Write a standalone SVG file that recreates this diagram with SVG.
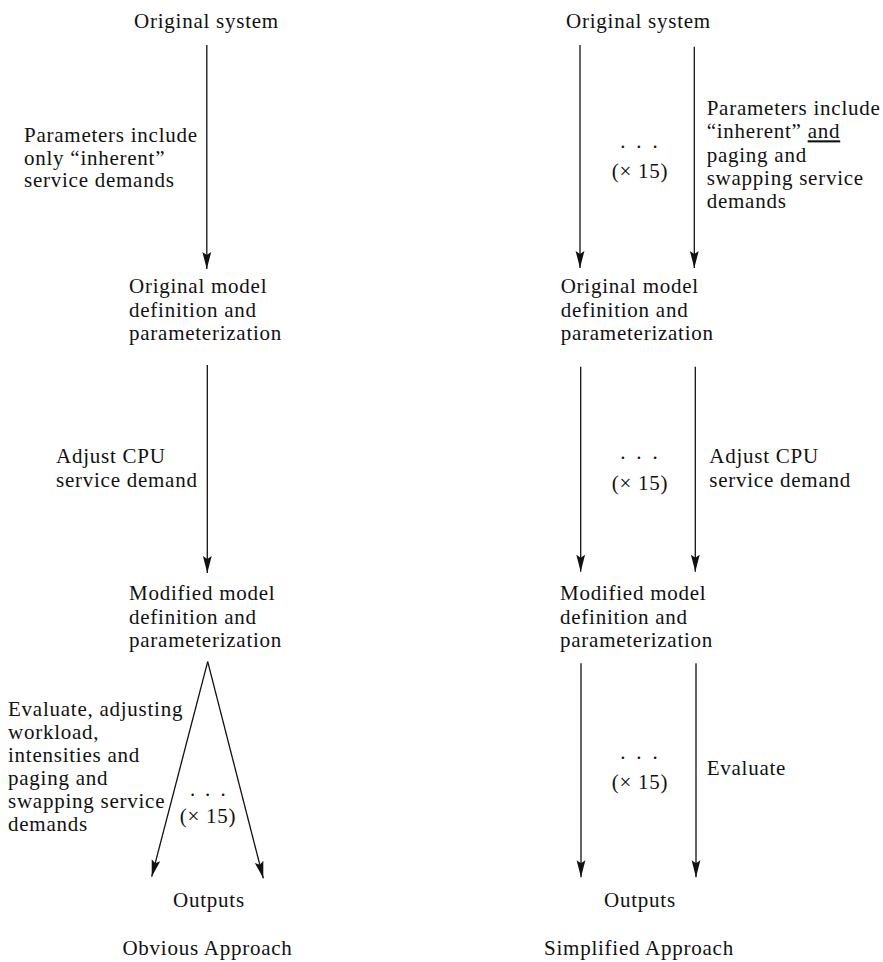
<svg xmlns="http://www.w3.org/2000/svg" width="883" height="962" viewBox="0 0 883 962">
<defs>
<marker id="ah" markerUnits="userSpaceOnUse" markerWidth="18" markerHeight="10" viewBox="0 0 18 10" refX="17" refY="5" orient="auto">
<path d="M0,0.6 L17,5 L0,9.4 L3,5 Z" fill="#111"/>
</marker>
<style>
text{font-family:"Liberation Serif","Times New Roman",serif;font-size:21px;fill:#111;letter-spacing:0.75px}
.c{text-anchor:middle}
.e{stroke:#111;stroke-width:1.3;fill:none;marker-end:url(#ah)}
.ul{text-decoration:underline}
</style>
</defs>
<rect width="883" height="962" fill="#fff"/>

<g id="connectors">
<line class="e" x1="206.8" y1="45" x2="206.8" y2="269"/>
<line class="e" x1="207.3" y1="365" x2="207.3" y2="573"/>
<line class="e" x1="207.7" y1="661.7" x2="151.7" y2="876.7"/>
<line class="e" x1="207.7" y1="661.7" x2="263.3" y2="878.3"/>
<line class="e" x1="580" y1="45" x2="580" y2="268"/>
<line class="e" x1="694.3" y1="46.7" x2="694.3" y2="268"/>
<line class="e" x1="580.7" y1="366.7" x2="580.7" y2="571.7"/>
<line class="e" x1="695.3" y1="366.7" x2="695.3" y2="571.7"/>
<line class="e" x1="581" y1="663.3" x2="581" y2="877.3"/>
<line class="e" x1="696" y1="663.3" x2="696" y2="877.3"/>
</g>

<g id="edge-labels">
<text x="24" y="141.5">Parameters include</text>
<text x="24" y="164.5">only “inherent”</text>
<text x="24" y="187">service demands</text>
<text x="56" y="463.3">Adjust CPU</text>
<text x="56" y="487">service demand</text>
<text x="8" y="716">Evaluate, adjusting</text>
<text x="8" y="738.5">workload,</text>
<text x="8" y="761.7">intensities and</text>
<text x="8" y="785">paging and</text>
<text x="8" y="808.3">swapping service</text>
<text x="8" y="830.7">demands</text>
<text x="190" y="795.5" letter-spacing="0">.<tspan x="205">.</tspan><tspan x="220.5">.</tspan></text>
<text class="c" x="208" y="823.3">(× 15)</text>

<text x="706.7" y="115">Parameters include</text>
<text x="706.7" y="138.3">“inherent” <tspan class="ul">and</tspan></text>
<text x="706.7" y="161.7">paging and</text>
<text x="706.7" y="185">swapping service</text>
<text x="706.7" y="208.3">demands</text>
<text x="620.2" y="148" letter-spacing="0">.<tspan x="636.2">.</tspan><tspan x="652.4">.</tspan></text>
<text class="c" x="640" y="178.3">(× 15)</text>

<text x="709.3" y="463.3">Adjust CPU</text>
<text x="709.3" y="486.7">service demand</text>
<text x="620.2" y="459" letter-spacing="0">.<tspan x="636.2">.</tspan><tspan x="652.4">.</tspan></text>
<text class="c" x="640" y="490">(× 15)</text>

<text x="706.7" y="775">Evaluate</text>
<text x="620.2" y="759" letter-spacing="0">.<tspan x="636.2">.</tspan><tspan x="652.4">.</tspan></text>
<text class="c" x="640" y="789.3">(× 15)</text>
</g>

<g id="left-original-system"><text class="c" x="206.5" y="27.5">Original system</text></g>
<g id="left-original-model">
<text x="129" y="292.5">Original model</text>
<text x="129" y="316.5">definition and</text>
<text x="129" y="340">parameterization</text>
</g>
<g id="left-modified-model">
<text x="129" y="600">Modified model</text>
<text x="129" y="623.5">definition and</text>
<text x="129" y="647">parameterization</text>
</g>
<g id="left-outputs"><text class="c" x="209" y="906.7">Outputs</text></g>
<g id="left-title"><text class="c" x="207.5" y="955">Obvious Approach</text></g>

<g id="right-original-system"><text class="c" x="638.5" y="28">Original system</text></g>
<g id="right-original-model">
<text x="560.7" y="292.5">Original model</text>
<text x="560.7" y="316.5">definition and</text>
<text x="560.7" y="340">parameterization</text>
</g>
<g id="right-modified-model">
<text x="560" y="600">Modified model</text>
<text x="560" y="623.5">definition and</text>
<text x="560" y="647">parameterization</text>
</g>
<g id="right-outputs"><text class="c" x="640" y="906.7">Outputs</text></g>
<g id="right-title"><text class="c" x="639" y="955">Simplified Approach</text></g>
</svg>
